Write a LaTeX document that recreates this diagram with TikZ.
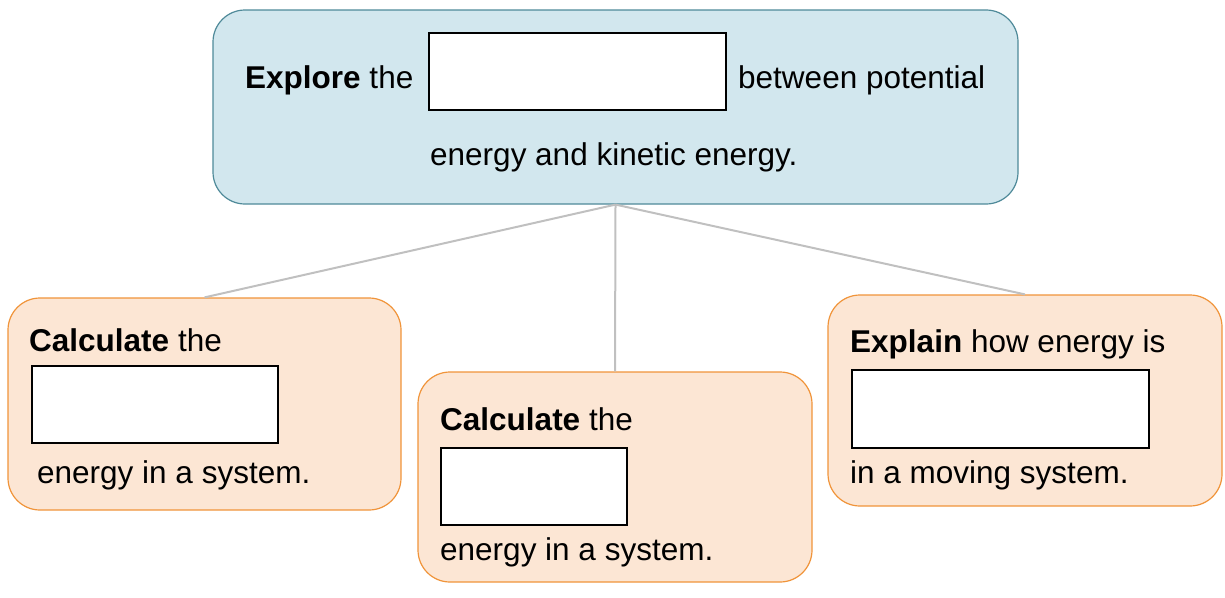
\documentclass[tikz,border=0pt]{standalone}
\usepackage{fontspec}
\setmainfont{Liberation Sans}
\definecolor{topfill}{HTML}{D2E7EE}
\definecolor{topdraw}{HTML}{4F8A99}
\definecolor{subfill}{HTML}{FCE6D4}
\definecolor{subdraw}{HTML}{F0943A}
\definecolor{linkgray}{HTML}{C0C0C0}
\begin{document}
\begin{tikzpicture}[x=1pt,y=-1pt,
  topbox/.style={draw=topdraw,fill=topfill,line width=1.2pt,rounded corners=32pt,inner sep=0pt},
  subbox/.style={draw=subdraw,fill=subfill,line width=1.2pt,rounded corners=32pt,inner sep=0pt},
  blank/.style={draw=black,fill=white,line width=2pt,inner sep=0pt,anchor=north west},
  txt/.style={anchor=base west,inner sep=0pt,font=\fontsize{31.5}{36}\selectfont},
  link/.style={draw=linkgray,line width=2pt}]
\useasboundingbox (0,0) rectangle (1225,597);
% main boxes
\node[topbox,minimum width=805pt,minimum height=194pt] (top) at (615.5,107) {};
\node[subbox,minimum width=393pt,minimum height=212pt] (left) at (204.5,404) {};
\node[subbox,minimum width=394pt,minimum height=210pt] (mid) at (615,477) {};
\node[subbox,minimum width=394pt,minimum height=211pt] (right) at (1025,400.5) {};
% connectors
\draw[link] (top.south) -- (left.north);
\draw[link] (top.south) -- (mid.north);
\draw[link] (top.south) -- (right.north);
% top texts
\node[txt] (t1) at (245,88) {\textbf{Explore} the};
\node[blank,minimum width=297pt,minimum height=77pt] (b0) at (428,32) {};
\node[txt] (t2) at (738,88) {between potential};
\node[txt] (t3) at (430,165) {energy and kinetic energy.};
% left
\node[txt] (l1) at (29,351) {\textbf{Calculate} the};
\node[blank,minimum width=246pt,minimum height=77pt] (b1) at (31,365) {};
\node[txt] (l2) at (37,483) {energy in a system.};
% middle
\node[txt] (m1) at (440,430) {\textbf{Calculate} the};
\node[blank,minimum width=186pt,minimum height=77pt] (b2) at (440,447) {};
\node[txt] (m2) at (440,560) {energy in a system.};
% right
\node[txt] (r1) at (850,352) {\textbf{Explain} how energy is};
\node[blank,minimum width=297pt,minimum height=78pt] (b3) at (851,369) {};
\node[txt] (r2) at (850,483) {in a moving system.};
\end{tikzpicture}
\end{document}
